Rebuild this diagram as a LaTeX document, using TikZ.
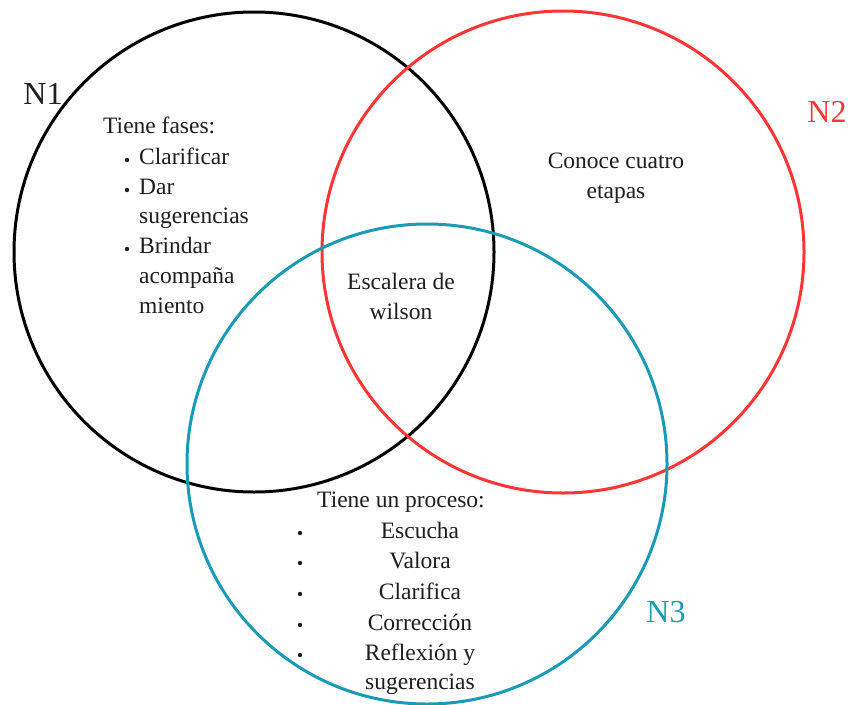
\documentclass[tikz,border=0pt]{standalone}
\usepackage{fontspec}
\setmainfont{Liberation Serif}
\definecolor{vred}{HTML}{FF3535}
\definecolor{vteal}{HTML}{1B9AB5}
\definecolor{ink}{HTML}{1E1E1E}
\tikzset{
  ring/.style={line width=3pt},
  txt/.style={inner sep=0pt, text=ink, font=\fontsize{23.5}{28}\selectfont},
  lbl/.style={inner sep=0pt, font=\fontsize{32}{36}\selectfont},
  dot/.style={fill=ink, draw=none}
}
\begin{document}
\begin{tikzpicture}[x=1pt,y=-1pt]
\useasboundingbox (0,0) rectangle (848,704);
% circles
\coordinate (c1) at (254,252);
\coordinate (c2) at (563,252);
\coordinate (c3) at (427,464);
\draw[ring, black] (c1) circle[radius=240];
\draw[ring, vred] (c2) circle[radius=241];
\draw[ring, vteal] (c3) circle[radius=240];
% set labels
\node[lbl, text=ink, anchor=base] (n1) at (43,104) {N1};
\node[lbl, text=vred, anchor=base] (n2) at (827,122) {N2};
\node[lbl, text=vteal, anchor=base] (n3) at (666,622) {N3};
% N1 text
\node[txt, anchor=base west] (t1) at (103,133) {Tiene fases:};
\node[txt, anchor=base west] (a1) at (139,164) {Clarificar};
\node[txt, anchor=base west] (a2) at (139,194) {Dar};
\node[txt, anchor=base west] (a3) at (139,223) {sugerencias};
\node[txt, anchor=base west] (a4) at (139,253) {Brindar};
\node[txt, anchor=base west] (a5) at (139,283) {acompaña};
\node[txt, anchor=base west] (a6) at (139,313) {miento};
\foreach \y in {164,194,253} \fill[dot] (127,\y-4) circle[radius=2.2];
% N2 text
\node[txt, anchor=base] (t2a) at (616,168) {Conoce cuatro};
\node[txt, anchor=base] (t2b) at (616,198) {etapas};
% centre text
\node[txt, anchor=base] (c1a) at (401,289) {Escalera de};
\node[txt, anchor=base] (c1b) at (401,319) {wilson};
% N3 text
\node[txt, anchor=base] (t3) at (401,507) {Tiene un proceso:};
\node[txt, anchor=base] (b1) at (420,538) {Escucha};
\node[txt, anchor=base] (b2) at (420,568) {Valora};
\node[txt, anchor=base] (b3) at (420,599) {Clarifica};
\node[txt, anchor=base] (b4) at (420,630) {Corrección};
\node[txt, anchor=base] (b5) at (420,660) {Reflexión y};
\node[txt, anchor=base] (b6) at (420,689) {sugerencias};
\foreach \y in {538,568,599,630,660} \fill[dot] (300,\y-5) circle[radius=2.2];
\end{tikzpicture}
\end{document}
